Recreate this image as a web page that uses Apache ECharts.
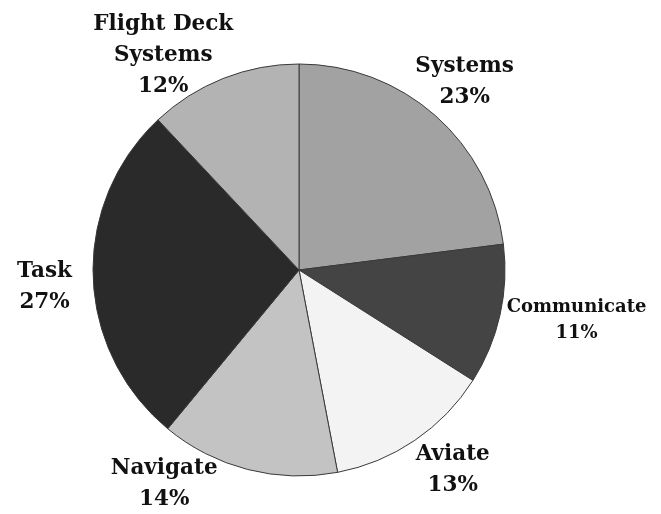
<!DOCTYPE html>
<html>
<head>
<meta charset="utf-8">
<script src="https://cdn.jsdelivr.net/npm/echarts@6/dist/echarts.min.js"></script>
<style>
html,body{margin:0;padding:0;background:#fff;}
#chart{width:661px;height:514px;}
</style>
</head>
<body>
<div id="chart"></div>
<script>
// Data
var categories = ['Systems', 'Communicate', 'Aviate', 'Navigate', 'Task', 'Flight Deck\nSystems'];
var percentages = [23, 11, 13, 14, 27, 12];

// Styles
var sliceColors = ['#a2a2a2', '#444444', '#f3f3f3', '#c3c3c3', '#2a2a2a', '#b3b3b3'];
var labelAngles = [41.3, 100.2, 142.4, 212.2, 266.2, 327.7]; // degrees clockwise from top
var labelDists = [251, 282, 252, 253, 255, 254];
var labelSizes = [21.5, 18, 21.5, 21.5, 21.5, 21.5];

var CX = 299, CY = 270, R = 206;

var chart = echarts.init(document.getElementById('chart'));
var seriesData = categories.map(function (c, i) {
  return {
    name: c,
    value: percentages[i],
    itemStyle: { color: sliceColors[i] },
    label: { fontSize: labelSizes[i], lineHeight: labelSizes[i] > 20 ? 31 : 26 }
  };
});

chart.setOption({
  animation: false,
  backgroundColor: '#ffffff',
  series: [{
    type: 'pie',
    center: [CX, CY],
    radius: R,
    startAngle: 90,
    clockwise: true,
    avoidLabelOverlap: false,
    percentPrecision: 0,
    data: seriesData,
    itemStyle: { borderColor: '#3a3a3a', borderWidth: 1 },
    label: {
      show: true,
      position: 'outside',
      formatter: '{b}\n{d}%',
      fontFamily: 'DejaVu Serif',
      fontWeight: 'bold',
      color: '#111111',
      align: 'center'
    },
    labelLine: { show: false },
    labelLayout: function (p) {
      var i = p.dataIndex;
      var a = labelAngles[i] * Math.PI / 180;
      return {
        x: CX + labelDists[i] * Math.sin(a),
        y: CY - labelDists[i] * Math.cos(a),
        align: 'center',
        verticalAlign: 'middle'
      };
    },
    emphasis: { disabled: true }
  }]
});
</script>
</body>
</html>
